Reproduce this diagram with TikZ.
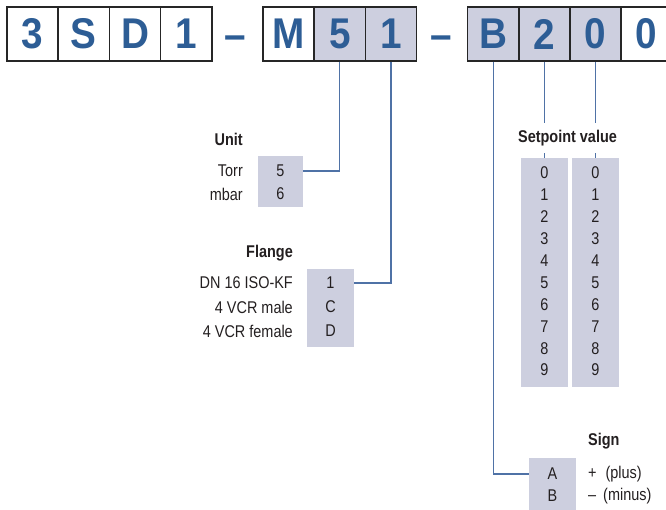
\documentclass[tikz,border=0pt]{standalone}
\usepackage{fontspec}
\setmainfont[FakeStretch=0.85]{Liberation Sans}
\newfontfamily\bigf[FakeStretch=0.9]{Liberation Sans}
\definecolor{codeblue}{HTML}{2D5D95}
\definecolor{boxgray}{HTML}{CDCFDF}
\definecolor{linkblue}{HTML}{4F72A6}
\definecolor{txt}{HTML}{231F20}
\tikzset{
  cell/.style={draw=black!85, line width=1.6pt, minimum width=51.2pt, minimum height=54pt,
    inner sep=0pt, font=\bigf\fontsize{43}{43}\selectfont\bfseries, text=codeblue},
  wcell/.style={cell, fill=white},
  gcell/.style={cell, fill=boxgray},
  dashtxt/.style={font=\bigf\fontsize{43}{43}\selectfont\bfseries, text=codeblue, inner sep=0pt, anchor=base},
  optbox/.style={fill=boxgray, draw=none, inner sep=0pt},
  entry/.style={font=\fontsize{17}{17}\selectfont, text=txt, inner sep=0pt, anchor=center},
  lbl/.style={font=\fontsize{17}{17}\selectfont, text=txt, inner sep=0pt},
  head/.style={font=\fontsize{17}{17}\selectfont\bfseries, text=txt, inner sep=0pt},
  link/.style={draw=linkblue, line width=1.1pt}
}
\begin{document}
\begin{tikzpicture}[x=1pt,y=-1pt]
\useasboundingbox (0,0) rectangle (666,510);
% top code cells
\node[wcell] (c1) at (32.6,34) {3};
\node[wcell] (c2) at (83.8,34) {S};
\node[wcell] (c3) at (135,34) {D};
\node[wcell] (c4) at (186.2,34) {1};
\node[dashtxt] (d1) at (235.5,49.5) {–};
\node[wcell] (c5) at (288.6,34) {M};
\node[gcell] (c6) at (339.8,34) {5};
\node[gcell] (c7) at (391,34) {1};
\node[dashtxt] (d2) at (441.5,49.5) {–};
\node[gcell] (c8) at (493.1,34) {B};
\node[gcell] (c9) at (544.3,34) {2};
\node[gcell] (c10) at (595.5,34) {0};
\node[wcell] (c11) at (646.7,34) {0};

% Unit
\node[optbox, minimum width=45pt, minimum height=51pt] (ubox) at (280.5,181.5) {};
\node[entry] (u5) at (280.5,171) {5};
\node[entry] (u6) at (280.5,194) {6};
\node[lbl, anchor=east] (utorr) at (243,171) {Torr};
\node[lbl, anchor=east] (umbar) at (243,194) {mbar};
\node[head, anchor=east] (uhead) at (243,139) {Unit};
\draw[link] (c6.south) |- (ubox.east |- u5);

% Flange
\node[optbox, minimum width=47pt, minimum height=78pt] (fbox) at (330.5,308) {};
\node[entry] (f1) at (330.5,283) {1};
\node[entry] (fC) at (330.5,307) {C};
\node[entry] (fD) at (330.5,331) {D};
\node[lbl, anchor=east] (fl1) at (293,283) {DN 16 ISO-KF};
\node[lbl, anchor=east] (fl2) at (293,307) {4 VCR male};
\node[lbl, anchor=east] (fl3) at (293,331) {4 VCR female};
\node[head, anchor=east] (fhead) at (293,253) {Flange};
\draw[link] (c7.south) |- (fbox.east |- f1);

% Setpoint value
\node[optbox, minimum width=47pt, minimum height=229pt] (s1) at (544.5,272.5) {};
\node[optbox, minimum width=47pt, minimum height=229pt] (s2) at (595.5,272.5) {};
\foreach \d in {0,...,9}{
  \node[entry] (sa\d) at (544.5,{173+21.9*\d}) {\d};
  \node[entry] (sb\d) at (595.5,{173+21.9*\d}) {\d};
}
\draw[link] (c9.south) -- (c9.south |- s1.north);
\draw[link] (c10.south) -- (c10.south |- s2.north);
\node[head, fill=white, inner xsep=1pt, inner ysep=7pt] (shead) at (567.5,138) {Setpoint value};

% Sign
\node[optbox, minimum width=47pt, minimum height=56pt] (gbox) at (552.5,486) {};
\node[entry] (gA) at (552.5,474) {A};
\node[entry] (gB) at (552.5,496) {B};
\node[lbl, anchor=west] (gl1) at (588,474) {+\hspace{9pt}(plus)};
\node[lbl, anchor=west] (gl2) at (588,496) {–\hspace{7pt}(minus)};
\node[head, anchor=west] (ghead) at (588,441) {Sign};
\draw[link] (c8.south) |- (gbox.west |- gA);
\end{tikzpicture}
\end{document}
